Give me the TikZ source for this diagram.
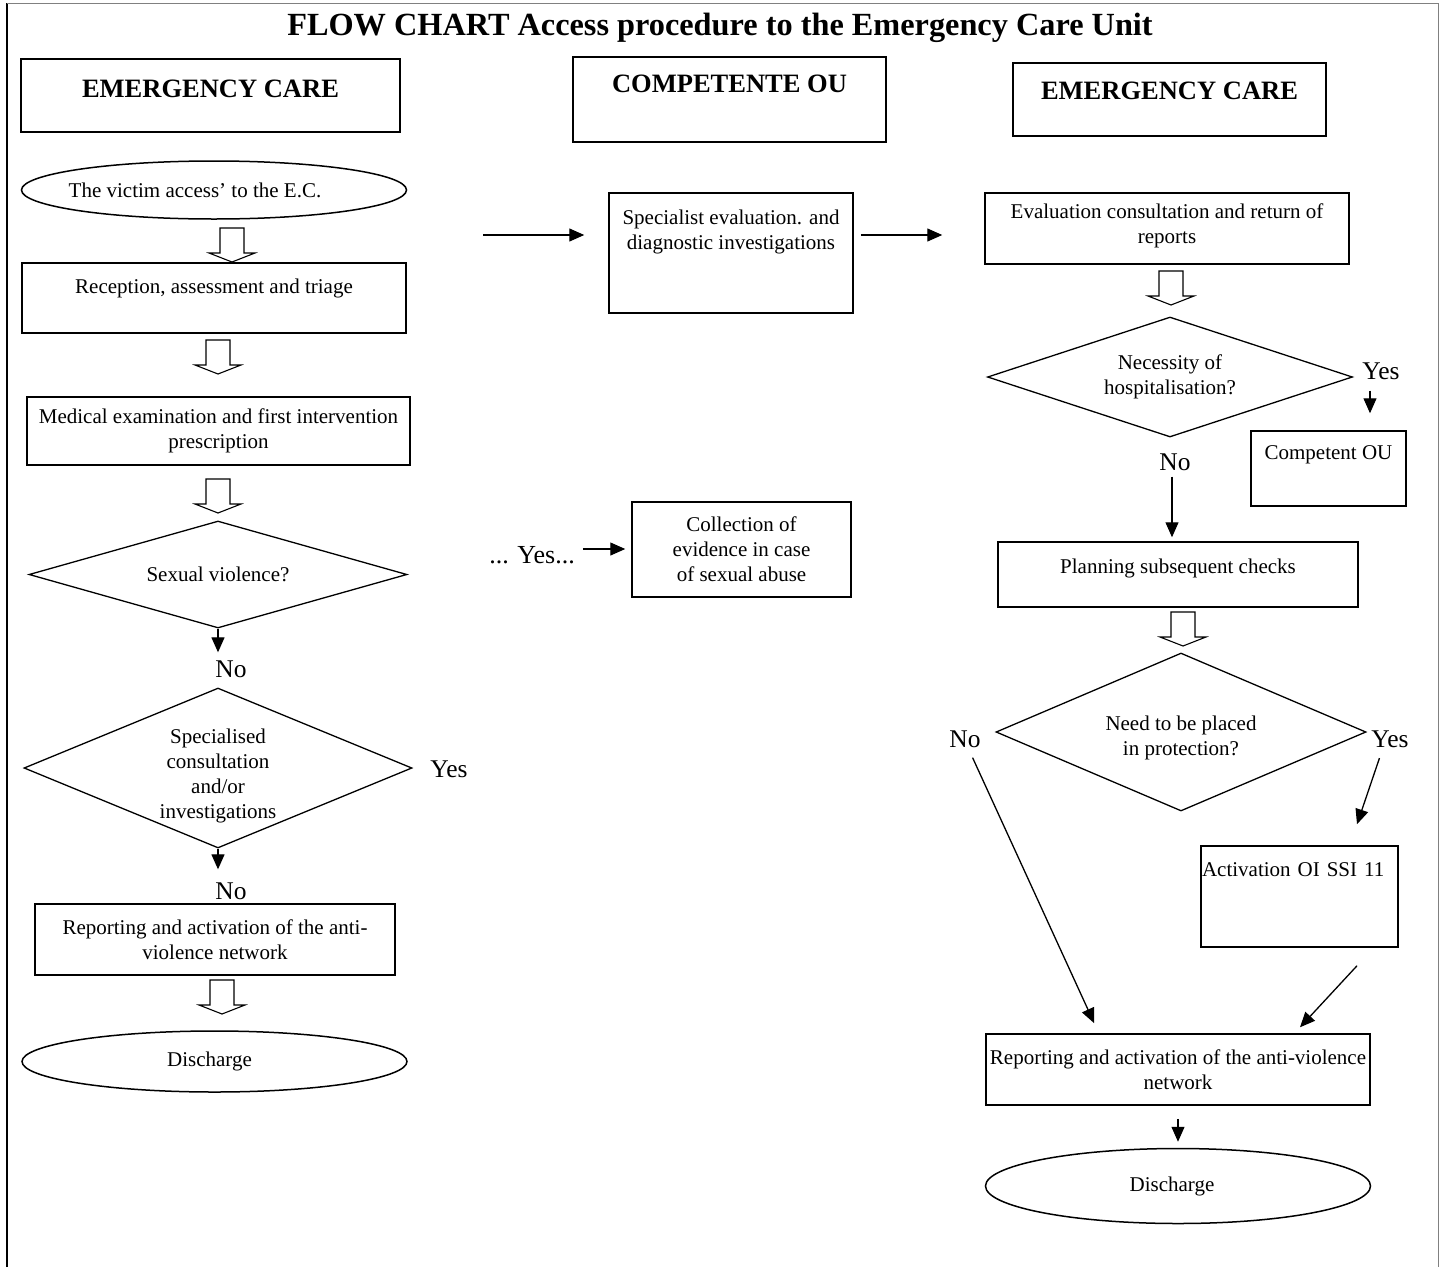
\documentclass[tikz,border=0pt]{standalone}
\usepackage{fontspec}
\setmainfont{Liberation Serif}
\usetikzlibrary{shapes.geometric,arrows.meta,calc}

\newcommand{\fctitle}{\fontsize{32.3}{38}\selectfont\bfseries}
\newcommand{\fchead}{\fontsize{26.5}{31}\selectfont\bfseries}
\newcommand{\fcbody}{\fontsize{21}{25}\selectfont}
\newcommand{\fclab}{\fontsize{25.5}{30}\selectfont}

\begin{document}
\begin{tikzpicture}[
    x = 1pt, y = -1pt,
    box/.style = {
        draw,
        line width = 1.5pt,
        font       = \fcbody,
        align      = center,
        inner sep  = 0pt
    },
    hdr/.style = {box, font = \fchead},
    dec/.style = {
        diamond, draw,
        line width = 1.3pt,
        font       = \fcbody,
        align      = center,
        inner sep  = 0pt
    },
    term/.style = {
        ellipse, draw,
        line width = 1.5pt,
        font       = \fcbody,
        inner sep  = 0pt
    },
    lab/.style = {font = \fclab, inner sep = 0pt},
    arr/.style = {-{Triangle[length=15pt,width=13pt]}, line width = 1.3pt},
    hollowarr/.pic = {
        \draw[line width=1.1pt, fill=white]
            (-12,0) -- (-12,25) -- (-23,25) -- (0,34) -- (23,25) -- (12,25) -- (12,0) -- cycle;
    }
]

\useasboundingbox (0,0) rectangle (1443,1267);

% ================================================================
%  MARCO + TITULO
% ================================================================

\draw[line width=2pt] (7,1267) -- (7,3);
\draw[gray, line width=1pt] (7,3) -- (1438,3) -- (1438,1267);

\node[font=\fctitle, anchor=base] (title) at (720,35)
    {FLOW CHART Access procedure to the Emergency Care Unit};

% ================================================================
%  CABECERAS DE COLUMNA
% ================================================================

\node[hdr, minimum width=379pt, minimum height=73pt, text depth=14pt] (hdrL) at (210.5,95.5)  {EMERGENCY CARE};
\node[hdr, minimum width=313pt, minimum height=85pt, text depth=31pt] (hdrM) at (729.5,99.5)  {COMPETENTE OU};
\node[hdr, minimum width=313pt, minimum height=73pt, text depth=17pt] (hdrR) at (1169.5,99.5) {EMERGENCY CARE};

% ================================================================
%  COLUMNA IZQUIERDA
% ================================================================

\node[term, minimum width=385pt, minimum height=58pt] (victim) at (214,190)
    {\hspace*{-38pt}The victim access' to the E.C.};

\node[box, minimum width=384pt, minimum height=70pt, text depth=23pt] (recep) at (214,298)
    {Reception, assessment and triage};

\node[box, minimum width=383pt, minimum height=68pt] (medic) at (218.5,431)
    {Medical examination and first intervention\\prescription};

\node[dec, aspect=3.53, minimum width=378pt, minimum height=107pt] (sexv) at (218,574.5)
    {Sexual violence?};

\node[dec, aspect=2.43, minimum width=388pt, minimum height=160pt, text height=105pt] (spc) at (218,768)
    {Specialised\\consultation\\and/or\\investigations};

\node[box, minimum width=360pt, minimum height=71pt] (rep1) at (215,939.5)
    {Reporting and activation of the anti-\\violence network};

\node[term, minimum width=385pt, minimum height=61pt] (dis1) at (214.5,1061.5)
    {\hspace*{-10pt}Discharge};

\node[lab] (no1)  at (231,669) {No};
\node[lab] (no2)  at (231,891) {No};
\node[lab] (yes1) at (449,769) {Yes};

\pic at (232,228) {hollowarr};
\pic at (218,340) {hollowarr};
\pic at (218,479) {hollowarr};
\pic at (222,980) {hollowarr};

\draw[arr, shorten >=8pt]  (sexv.south) -- (sexv.south |- no1.north);
\draw[arr, shorten >=13pt] (spc.south)  -- (spc.south |- no2.north);

% ================================================================
%  COLUMNA CENTRAL
% ================================================================

\node[box, minimum width=244pt, minimum height=120pt, text depth=47pt] (spec) at (731,253)
    {Specialist evaluation. and\\diagnostic investigations};

\node[box, minimum width=219pt, minimum height=95pt] (coll) at (741.5,549.5)
    {Collection of\\evidence in case\\of sexual abuse};

\node[lab, font=\fontsize{26}{30}\selectfont] (yesdots) at (532,555) {... Yes...};

\coordinate (yesfree) at (483,235);

\draw[arr, shorten >=24pt] (yesfree) -- (yesfree -| spec.west);
\draw[arr, shorten <=8pt, shorten >=6pt]
    ([yshift=6pt]yesdots.east) -- ([yshift=6pt]yesdots.east -| coll.west);

% ================================================================
%  COLUMNA DERECHA
% ================================================================

\node[box, minimum width=364pt, minimum height=71pt, text depth=9pt] (evalrep) at (1167,228.5)
    {Evaluation consultation and return of\\reports};

\node[dec, aspect=3.04, minimum width=365pt, minimum height=120pt] (hosp) at (1170,377)
    {Necessity of\\hospitalisation?};

\node[box, minimum width=155pt, minimum height=75pt, text depth=31pt] (compou) at (1328.5,468.5)
    {Competent OU};

\node[box, minimum width=360pt, minimum height=65pt, text depth=17pt] (plan) at (1178,574.5)
    {Planning subsequent checks};

\node[dec, aspect=2.34, minimum width=370pt, minimum height=158pt, text height=51.5pt] (prot) at (1181,732)
    {Need to be placed\\in protection?};

\node[box, align=left, text width=195pt, inner xsep=1pt,
      minimum width=197pt, minimum height=101pt, text depth=53pt] (act) at (1299.5,896.5)
    {Activation OI SSI 11};

\node[box, minimum width=384pt, minimum height=71pt] (rep2) at (1178,1069.5)
    {Reporting and activation of the anti-violence\\network};

\node[term, minimum width=385pt, minimum height=75pt] (dis2) at (1178,1186)
    {\hspace*{-12pt}Discharge};

\node[lab] (yes2) at (1381,371) {Yes};
\node[lab] (no3)  at (1175,462) {No};
\node[lab] (no4)  at (965,739)  {No};
\node[lab] (yes4) at (1390,739) {Yes};

\pic at (1171,271) {hollowarr};
\pic at (1183,612) {hollowarr};

\draw[arr, shorten <=7pt, shorten >=42pt] (spec.east |- yesfree) -- (yesfree -| evalrep.west);
\draw[arr, shorten <=11pt, shorten >=17pt]
    ([xshift=-11pt]yes2.south) -- ([xshift=-11pt]yes2.south |- compou.north);
\draw[arr, shorten <=6pt, shorten >=4pt]
    ([xshift=-3pt]no3.south) -- ([xshift=-3pt]no3.south |- plan.north);
\draw[arr, shorten <=11pt] ([xshift=3pt]no4.south) -- ($(rep2.north west)+(109,-10)$);
\draw[arr, shorten <=11pt] ([xshift=-7pt]yes4.south) -- ($(act.north)+(57.5,-21)$);
\draw[arr] ($(act.south)+(57.5,18)$) -- ($(rep2.north)+(122,-6)$);
\draw[arr, shorten <=13pt, shorten >=6pt] (rep2.south) -- (dis2.north);

\end{tikzpicture}
\end{document}
